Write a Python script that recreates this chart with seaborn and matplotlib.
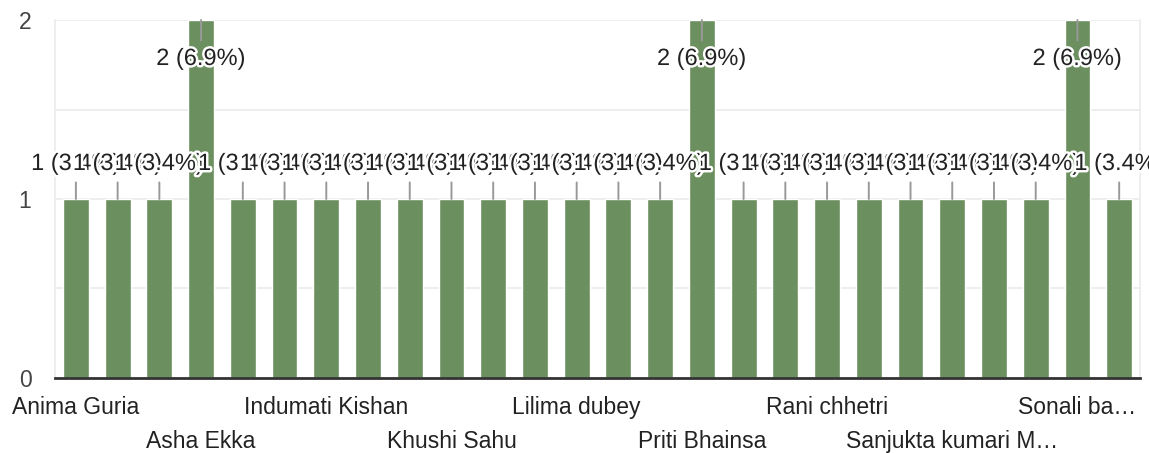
import pandas as pd
import matplotlib.pyplot as plt
import matplotlib.patheffects as pe
import seaborn as sns

sns.set_theme(style="white")
plt.rcParams["font.family"] = ["Liberation Sans", "DejaVu Sans"]

# respondents (alphabetical); only every third name is readable on the axis
names = [
    "Anima Guria", None, None, "Asha Ekka", None, None,
    "Indumati Kishan", None, None, "Khushi Sahu", None, None,
    "Lilima dubey", None, None, "Priti Bhainsa", None, None,
    "Rani chhetri", None, None, "Sanjukta kumari M…", None, None,
    "Sonali ba…", None,
]
counts = [1, 1, 1, 2, 1, 1, 1, 1, 1, 1, 1, 1, 1,
          1, 1, 2, 1, 1, 1, 1, 1, 1, 1, 1, 2, 1]
y_ticks = [0, 1, 2]

total = sum(counts)
df = pd.DataFrame({"pos": range(len(counts)), "count": counts})

bar_color = "#6b8f5e"
fig = plt.figure(figsize=(11.49, 4.53), dpi=100)
ax = fig.add_axes([0.0479, 0.1656, 0.9443, 0.7902])

sns.barplot(data=df, x="pos", y="count", color=bar_color, saturation=1,
            width=0.62, ax=ax, zorder=2)

ax.set_xlim(-0.5, len(counts) - 0.5)
ax.set_ylim(0, 2)
ax.set_yticks(y_ticks)
ax.set_yticks([0.5, 1.5], minor=True)
ax.grid(True, axis="y", which="both", color="#ebebeb", lw=1.2, zorder=0)
ax.grid(False, axis="x")
ax.set_xlabel("")
ax.set_ylabel("")

ax.spines["top"].set_visible(False)
for side in ["left", "right"]:
    ax.spines[side].set_color("#ebebeb")
    ax.spines[side].set_linewidth(1.2)
ax.spines["bottom"].set_color("#333333")
ax.spines["bottom"].set_linewidth(2)
ax.spines["bottom"].set_zorder(3)

ax.tick_params(axis="y", which="both", length=0, pad=17, labelsize=16.5,
               labelcolor="#444444")

# x labels: every third name, alternating between two rows
tick_pos, tick_lab = [], []
for k, i in enumerate(range(0, len(names), 3)):
    tick_pos.append(i)
    tick_lab.append(names[i] if k % 2 == 0 else "\n" + names[i])
ax.set_xticks(tick_pos)
ax.set_xticklabels(tick_lab)
ax.tick_params(axis="x", length=0, pad=13, labelsize=16.5, labelcolor="#222222")
for t in ax.get_xticklabels():
    t.set_linespacing(1.6)

# value labels with leader lines
halo = [pe.withStroke(linewidth=3.5, foreground="white")]
for i, v in enumerate(counts):
    label = f"{v} ({v / total * 100:.1f}%)"
    off = 35 if v < 2 else -39
    ann = ax.annotate(label, xy=(i, v), xytext=(0, off),
                      textcoords="offset pixels", ha="center", va="center",
                      fontsize=17, color="#222222", zorder=5,
                      arrowprops=dict(arrowstyle="-", color="#999999", lw=1.4,
                                      shrinkA=3, shrinkB=0))
    ann.set_path_effects(halo)
    ann.arrow_patch.set_path_effects([])

fig.savefig("out.png", dpi=100)
